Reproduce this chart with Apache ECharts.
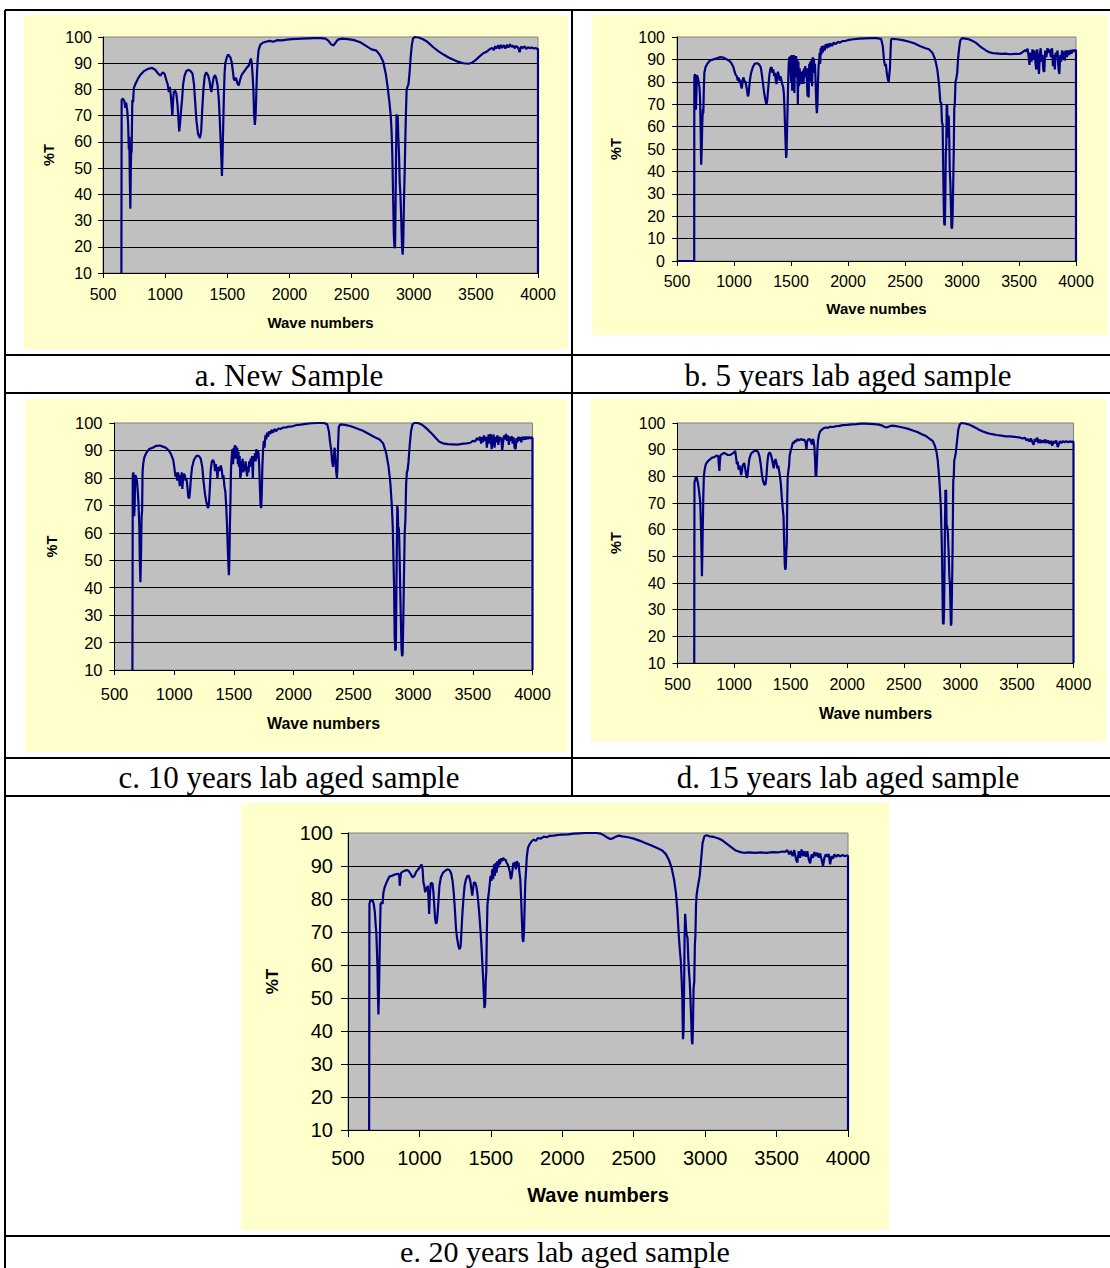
<!DOCTYPE html>
<html>
<head>
<meta charset="utf-8">
<script src="https://cdn.jsdelivr.net/npm/echarts@6/dist/echarts.min.js"></script>
<style>
html,body{margin:0;padding:0;background:#fff;}
#chart{width:1110px;height:1268px;}
</style>
</head>
<body>
<div id="chart"></div>
<script>
// ---- Data (wave number, %T) ----
var xTicks = [500, 1000, 1500, 2000, 2500, 3000, 3500, 4000];
var captions = ['a. New Sample', 'b. 5 years lab aged sample', 'c. 10 years lab aged sample', 'd. 15 years lab aged sample', 'e. 20 years lab aged sample'];
var xTitles = ['Wave numbers', 'Wave numbes', 'Wave numbers', 'Wave numbers', 'Wave numbers'];
var yTitle = '%T';
var yMins = [10, 0, 10, 10, 10];

var specA = [[648,10],[650,76],[660,76.5],[672,75.5],[680,73],[686,75],[695,72],[702,67],[708,57],[712,62],[716,45],[720,34.5],[724,50],[727,57],[730,56],[733,66],[736,76],[742,75],[748,80.5],[760,82],[780,84],[800,85.5],[830,87],[860,87.8],[895,88.2],[920,87.5],[945,86],[962,85.3],[980,86.5],[995,86],[1010,83.5],[1020,82],[1030,79],[1038,81],[1045,78],[1052,74],[1058,70],[1064,76],[1070,79],[1080,79.5],[1090,78.5],[1100,74],[1108,68],[1113,64],[1120,67],[1128,72],[1136,76],[1145,82],[1155,85],[1170,87],[1190,87.5],[1205,87],[1220,86],[1232,82],[1242,75],[1252,68],[1265,63],[1280,61.5],[1290,64],[1298,72],[1308,80],[1318,85],[1330,86.5],[1345,85.5],[1358,83],[1365,80.5],[1372,79],[1378,81],[1390,84.5],[1402,85.5],[1412,84],[1422,81.5],[1432,76],[1440,68],[1447,60],[1452,54],[1457,47],[1462,55],[1468,68],[1473,78],[1478,86],[1484,90],[1495,92],[1505,93.3],[1515,92.8],[1525,92.2],[1535,90.5],[1545,87],[1552,84],[1560,83.5],[1570,84.5],[1580,82.5],[1592,81.5],[1602,83.5],[1615,85.5],[1630,86.5],[1645,87.5],[1660,88.5],[1672,89],[1682,90.5],[1690,91.8],[1697,90],[1703,86],[1710,80],[1716,70],[1722,66.5],[1728,70],[1733,78],[1738,85],[1744,91],[1752,95],[1765,97],[1785,97.8],[1810,98.2],[1840,98.5],[1870,98.2],[1900,98.8],[1940,98.7],[1980,99],[2020,99.2],[2060,99.3],[2100,99.4],[2150,99.5],[2200,99.6],[2250,99.6],[2290,99.4],[2315,98.5],[2335,97.2],[2355,96.8],[2370,97.8],[2390,99],[2420,99.4],[2470,99.2],[2520,98.8],[2570,98],[2620,96.5],[2660,95.3],[2700,94.8],[2730,93],[2755,90.5],[2775,86],[2790,81],[2805,75],[2815,70],[2822,64],[2828,55],[2834,40],[2840,25],[2845,19.5],[2850,20],[2854,36],[2858,55],[2862,70.5],[2866,67],[2871,70],[2876,62],[2882,55],[2887,45],[2893,40],[2900,30],[2906,20],[2911,17],[2916,22],[2922,38],[2928,50],[2933,62],[2938,72],[2943,80],[2950,81],[2958,82],[2966,86],[2975,92],[2985,97],[2995,99.5],[3010,100],[3040,99.8],[3070,99.2],[3100,98.5],[3130,97.3],[3160,96],[3200,94.5],[3240,93.3],[3280,92.2],[3320,91.3],[3360,90.5],[3400,90],[3440,89.8],[3470,90.2],[3500,91.3],[3530,92.6],[3560,93.8],[3590,94.5],[3610,95.3],[3630,95.8],[3645,95],[3655,96.5],[3665,95.6],[3680,96.8],[3690,95.5],[3700,97],[3712,95.8],[3725,96.9],[3738,95.6],[3750,97],[3762,96],[3775,97.2],[3788,96.2],[3800,96.8],[3812,95.7],[3825,96.6],[3840,95.9],[3852,94.2],[3862,96.3],[3878,95.8],[3892,96.4],[3905,95.5],[3920,96.1],[3935,95.7],[3950,96],[3965,95.6],[3980,95.8],[3992,95.5],[4000,95.5],[4000,10]];

var specB = [[500,0],[651,0],[652,82],[658,83.5],[663,76],[666,67.5],[670,74],[675,83],[682,82],[690,80],[697,77.5],[702,73],[707,60],[712,43],[717,50],[722,62],[727,68],[731,66],[735,76],[740,84],[750,86.5],[765,88],[790,89.5],[820,90],[850,90.5],[880,91],[905,90.8],[930,90.2],[955,89.5],[975,88.5],[995,86.5],[1005,84.5],[1015,83],[1025,82.5],[1032,80.5],[1040,82],[1048,79.5],[1055,81],[1062,78],[1068,77],[1075,80],[1082,82],[1090,80.5],[1100,80],[1108,78],[1115,76],[1122,73.5],[1128,74.5],[1134,78],[1140,81],[1150,84],[1165,86.5],[1180,88],[1200,88.3],[1220,87.8],[1235,86.5],[1245,83],[1255,79],[1265,75],[1275,72],[1285,69.8],[1292,72],[1300,77],[1310,83],[1320,86],[1330,86.5],[1338,84],[1345,85.5],[1352,82.5],[1360,84],[1368,80],[1373,79],[1378,82],[1385,84.5],[1393,83],[1400,80.5],[1408,82.5],[1415,81],[1422,79],[1430,78],[1437,75],[1443,68],[1448,60],[1453,52],[1457,46],[1461,48],[1466,60],[1471,70],[1476,82],[1480,88],[1485,91],[1490,84],[1495,91.5],[1500,80],[1505,92],[1510,76],[1515,91],[1520,85],[1525,92],[1530,75],[1535,90.5],[1540,86],[1545,91.5],[1550,82],[1555,90],[1560,70],[1565,89],[1570,78],[1575,86],[1580,84],[1585,82],[1590,79],[1595,84.5],[1600,80],[1605,85],[1610,79],[1615,86],[1620,82],[1625,87],[1630,83],[1635,86],[1640,80],[1645,73.5],[1650,86],[1655,73],[1660,88],[1665,82],[1670,89],[1675,80],[1680,90],[1685,78],[1690,91],[1695,84],[1700,90.5],[1705,86],[1710,88],[1716,80],[1722,70],[1727,66],[1732,70],[1737,80],[1742,87],[1748,90],[1752,93],[1756,88],[1760,95],[1765,92],[1770,96],[1778,93],[1785,96.2],[1795,94],[1805,96.8],[1815,95],[1825,97],[1835,95.5],[1845,97.2],[1860,96],[1875,97.5],[1890,96.8],[1910,97.8],[1930,97.5],[1950,98.2],[1980,98.3],[2010,98.7],[2050,99],[2100,99.3],[2150,99.4],[2200,99.5],[2250,99.5],[2290,99.2],[2305,96],[2315,90],[2325,87],[2332,88],[2340,84],[2350,81],[2357,80],[2362,83],[2368,86],[2373,93],[2378,99],[2390,99.2],[2430,99],[2480,98.6],[2530,98],[2580,97.2],[2630,96],[2680,95],[2710,94.5],[2740,93],[2765,90],[2785,85],[2800,78],[2810,71],[2818,70.5],[2824,62],[2830,61],[2835,42],[2840,25],[2844,16.5],[2850,16],[2854,30],[2858,48],[2862,52],[2866,70],[2870,69],[2875,55],[2879,65],[2884,64],[2888,55],[2893,40],[2898,35],[2903,25],[2908,15],[2913,14.5],[2918,21],[2923,35],[2928,50],[2932,68],[2937,70],[2943,80],[2950,81.5],[2958,84],[2965,90],[2975,95],[2985,98.5],[3000,99.5],[3030,99.3],[3060,99],[3090,98.3],[3120,97.5],[3150,96.2],[3180,95],[3210,94],[3240,93.2],[3270,92.8],[3300,92.7],[3340,92.5],[3380,92.6],[3420,92.3],[3460,92.5],[3500,92.4],[3520,92.8],[3540,93.6],[3555,94.2],[3565,93.5],[3575,94.8],[3585,91],[3592,87.5],[3600,93],[3610,89],[3618,94.5],[3628,90],[3637,94],[3645,88],[3652,85.5],[3660,94.5],[3668,89],[3675,83.5],[3683,92],[3690,95],[3698,89],[3706,92],[3714,85],[3722,84.5],[3730,94],[3740,91],[3750,95],[3760,93],[3770,94.5],[3780,91],[3790,95],[3798,87],[3806,92],[3814,85.5],[3822,93],[3830,91],[3838,94],[3846,86],[3854,83.5],[3862,92],[3870,89],[3878,94],[3886,90],[3894,93.5],[3902,89.5],[3910,94],[3920,91],[3930,94],[3940,92],[3950,94.2],[3960,92.5],[3970,94.3],[3980,93.5],[3990,94.2],[4000,94],[4000,0]];

var specC = [[650,10],[653,81],[658,82],[662,78],[665,66],[669,70],[673,81],[680,80.5],[688,79],[695,75],[702,70],[708,62],[712,50],[717,42],[722,52],[727,66],[731,68],[735,82],[740,85],[750,87.5],[765,89],[790,90.5],[820,91],[850,91.7],[880,91.8],[905,91.4],[930,91],[955,90],[975,88.5],[992,86.5],[1002,83.5],[1010,80.5],[1018,82],[1025,79],[1032,82],[1040,80],[1046,77],[1052,81],[1058,78],[1063,82],[1068,76],[1074,80],[1080,81.5],[1088,81],[1095,79],[1102,80],[1110,77],[1118,73],[1126,72.5],[1132,75],[1140,80],[1150,84],[1165,86.5],[1185,88],[1205,88],[1222,87],[1235,84],[1245,79],[1258,74],[1270,71],[1282,69],[1290,70],[1298,76],[1306,83],[1315,86],[1325,86.5],[1335,85.5],[1342,82.5],[1348,85],[1356,83],[1362,80],[1368,83],[1375,84],[1383,82.5],[1390,84.5],[1398,83],[1405,80],[1412,81],[1420,77],[1428,75],[1435,70],[1442,63],[1448,55],[1454,48],[1458,44.5],[1462,50],[1466,62],[1471,72],[1476,84],[1482,88],[1487,90.5],[1493,85],[1498,91],[1503,89],[1508,92],[1513,87],[1518,91.5],[1523,88],[1528,91],[1533,85],[1538,89.5],[1543,84],[1548,88],[1553,80],[1558,81],[1563,86],[1568,84.5],[1573,87],[1578,82],[1583,85],[1590,82.5],[1597,86],[1604,84],[1610,80.5],[1616,84],[1622,82],[1628,86],[1634,84],[1640,87],[1646,85],[1652,88],[1658,80],[1664,88],[1670,86],[1676,89],[1682,86],[1688,90.5],[1694,87],[1700,90],[1706,89],[1712,84],[1718,76],[1723,70],[1728,69],[1733,74],[1738,84],[1744,90],[1750,93.5],[1757,91],[1763,95.5],[1770,94],[1778,96.5],[1786,95],[1795,97],[1805,96],[1815,97.5],[1828,96.5],[1840,97.8],[1855,97],[1870,98],[1890,97.8],[1910,98.3],[1935,98.4],[1960,98.7],[1990,98.8],[2020,99.2],[2060,99.4],[2100,99.7],[2150,99.9],[2200,100],[2250,100],[2280,99.6],[2295,97],[2305,93],[2315,90],[2322,86],[2330,84],[2337,88],[2343,91],[2350,86],[2357,82],[2362,80],[2367,84],[2372,92],[2378,98.5],[2390,99.5],[2430,99.3],[2480,98.8],[2530,98],[2580,97.2],[2630,96],[2680,94.8],[2720,94],[2750,92.5],[2775,89],[2795,84],[2810,78],[2822,70],[2830,62],[2836,50],[2841,40],[2846,22],[2851,17],[2856,18],[2860,38],[2864,55],[2868,70],[2872,68],[2876,60],[2880,62],[2884,58],[2888,50],[2893,38],[2898,28],[2903,18],[2908,15],[2913,16],[2918,28],[2924,45],[2930,60],[2936,65],[2942,78],[2948,82],[2955,83],[2962,86],[2972,92],[2983,97],[2995,99.5],[3010,100],[3040,100],[3070,99.5],[3100,98.5],[3130,97.3],[3160,96],[3190,94.5],[3220,93.2],[3250,92.6],[3290,92.3],[3330,92.2],[3370,92.1],[3410,92.4],[3450,92.6],[3480,92.8],[3500,93.5],[3520,93.3],[3535,94.5],[3548,93.8],[3560,95],[3570,92.5],[3578,94.8],[3586,93],[3594,95.5],[3602,93.5],[3610,95],[3618,91],[3626,94.5],[3634,95.8],[3642,92.5],[3650,96],[3658,90.5],[3666,94],[3674,95.8],[3682,91],[3690,95],[3698,93],[3706,95.5],[3714,92],[3722,95],[3730,93.5],[3738,94.8],[3746,89.8],[3754,93],[3762,95.5],[3770,94],[3778,96],[3786,93.5],[3794,95.5],[3802,92],[3810,95],[3818,93.5],[3826,95.2],[3834,92.5],[3842,94.8],[3850,91],[3858,90.5],[3866,94.5],[3874,93],[3882,95],[3890,93.5],[3898,94.8],[3906,93],[3914,95],[3922,93.8],[3930,95],[3940,94],[3950,95],[3960,94.2],[3970,95],[3980,94.3],[3990,94.8],[4000,94.5],[4000,10]];

var specD = [[648,10],[650,78],[656,78.5],[662,80],[670,79.5],[678,78],[686,76],[694,73],[700,71],[705,65],[709,58],[713,50],[716,42.5],[720,52],[724,62],[728,72],[733,80],[740,82.5],[750,84.5],[765,85.5],[785,86.3],[805,87],[825,87.2],[845,87.8],[860,87.5],[866,84],[870,82],[874,85],[880,88],[895,88.3],[910,88.8],[925,88.5],[945,88],[965,88],[985,88.5],[1000,89],[1010,89.5],[1018,87],[1025,84.5],[1032,85.5],[1040,82.5],[1047,84],[1054,83],[1062,80.5],[1068,81.5],[1075,84],[1082,84.5],[1090,85],[1098,83],[1105,81],[1112,79.5],[1118,80],[1125,83],[1135,86.5],[1150,88.5],[1170,89.3],[1195,89.6],[1212,89.2],[1225,87.5],[1237,84],[1248,80],[1258,78],[1268,76.8],[1278,77],[1286,80],[1294,85],[1302,88],[1312,89],[1322,88.5],[1332,87],[1342,85],[1350,83],[1358,85.5],[1366,86.5],[1375,85],[1382,83],[1390,84],[1398,82],[1406,80],[1414,77],[1422,72],[1430,68],[1437,65],[1443,55],[1448,47],[1452,45],[1457,45.5],[1462,52],[1466,55],[1470,72],[1474,80],[1480,82],[1486,84],[1492,88],[1500,89.5],[1510,91],[1520,92.8],[1530,92.5],[1540,93.5],[1550,93],[1560,94],[1575,93.5],[1590,94],[1605,93.6],[1620,93.8],[1632,92.8],[1640,90],[1645,93],[1655,93.8],[1668,94],[1680,93],[1688,92],[1694,94],[1702,93.5],[1710,91],[1716,86],[1720,80.5],[1726,80],[1731,84],[1736,90],[1742,93.5],[1750,95.5],[1760,96.8],[1775,97.5],[1790,98],[1810,98.3],[1830,98.2],[1850,98.6],[1875,98.5],[1900,98.8],[1930,98.9],[1960,99.2],[2000,99.3],[2040,99.5],[2080,99.6],[2120,99.8],[2160,99.8],[2200,99.7],[2240,99.6],[2280,99.4],[2310,99],[2330,98.5],[2350,98.3],[2370,98.7],[2390,99],[2420,98.9],[2460,98.6],[2500,98.2],[2540,97.8],[2580,97.2],[2620,96.6],[2660,95.8],[2700,95],[2730,94],[2755,93.3],[2775,91.5],[2790,89],[2800,86],[2808,82],[2815,78],[2822,73],[2828,68],[2834,58],[2838,50],[2842,38],[2846,25],[2852,24.5],[2856,30],[2860,45],[2864,62],[2868,75],[2871,60],[2874,75],[2878,62],[2883,61],[2888,60],[2893,55],[2898,50],[2903,42],[2908,40],[2913,30],[2917,24],[2921,25],[2925,35],[2929,45],[2933,60],[2937,78],[2942,80],[2946,86],[2952,87],[2960,89],[2970,93],[2982,97.5],[2995,99.5],[3010,100],[3040,99.8],[3070,99.5],[3100,99],[3130,98.3],[3160,97.6],[3200,96.8],[3240,96.2],[3280,95.8],[3320,95.5],[3360,95.3],[3400,95],[3440,95],[3480,94.8],[3520,94.6],[3550,94.2],[3570,94.5],[3585,93.5],[3600,94],[3612,93],[3624,94.2],[3636,92.8],[3648,91.8],[3658,94],[3668,93],[3680,94.5],[3690,92.5],[3702,93.8],[3712,92.5],[3725,93.5],[3738,92.6],[3750,93.8],[3762,92.5],[3775,93.5],[3788,92.2],[3800,93.3],[3812,91.5],[3824,93.2],[3836,92.5],[3848,93.4],[3860,91],[3870,92],[3880,93.2],[3892,92.5],[3905,93.2],[3920,92.8],[3935,93.2],[3950,92.8],[3965,93.1],[3980,92.9],[3992,93],[4000,93],[4000,10]];

var specE = [[648,10],[650,78.5],[656,79.5],[664,79.5],[672,79.6],[680,78.5],[688,76],[694,72],[698,70],[702,65],[706,60],[710,50],[713,45],[717,52],[720,60],[724,70],[728,78.5],[735,79],[742,78.5],[748,82],[756,83.5],[765,84.5],[775,85.5],[790,86.8],[805,87],[820,87.3],[835,87.5],[850,87.6],[858,87.5],[862,84],[866,86],[872,88],[885,88.3],[900,88.6],[915,88.8],[928,88.3],[940,87.5],[952,86.5],[965,87],[978,88.3],[992,89],[1005,89.8],[1015,90.5],[1022,89],[1028,85],[1034,84],[1040,82],[1046,83.5],[1052,82.5],[1058,84],[1064,80],[1068,75.5],[1072,80],[1078,84.5],[1085,85],[1092,84.5],[1098,82],[1104,78],[1110,74],[1116,72.5],[1122,73],[1128,76],[1134,80],[1140,84],[1150,86.5],[1165,88],[1180,88.5],[1195,89],[1210,88.8],[1222,87.8],[1232,85.5],[1240,82],[1248,77],[1256,71],[1264,68],[1272,66],[1280,64.8],[1288,65.5],[1294,70],[1300,75],[1308,80],[1316,84],[1326,86],[1336,87],[1346,87],[1356,85.5],[1364,83],[1370,81],[1375,83],[1382,85],[1390,85],[1398,84],[1405,82],[1412,79],[1420,75],[1428,70],[1434,66],[1440,61],[1446,56],[1450,52],[1455,47],[1460,48],[1464,55],[1468,58],[1472,70],[1476,78],[1480,80],[1486,82],[1492,84.5],[1498,87],[1504,85.5],[1510,89],[1516,86],[1522,90.5],[1528,87],[1534,91],[1540,88],[1546,91.5],[1552,89.5],[1558,92],[1564,90.5],[1570,92.3],[1578,91.5],[1586,92.5],[1594,91.8],[1602,92],[1610,91],[1618,90.5],[1626,89.5],[1634,88],[1640,86],[1646,87],[1652,89],[1658,91],[1664,89.5],[1670,91.2],[1676,89],[1682,91.5],[1688,90],[1694,91],[1700,88],[1706,86],[1712,80],[1717,74],[1722,68],[1727,67],[1732,70],[1736,77],[1741,85],[1746,88.5],[1752,93],[1760,95.5],[1770,96.5],[1785,97.5],[1800,98],[1815,97.6],[1830,98.5],[1850,98.3],[1870,98.9],[1890,98.7],[1910,99.1],[1940,99.2],[1970,99.4],[2000,99.5],[2040,99.6],[2080,99.8],[2120,99.9],[2160,100],[2200,100],[2240,100],[2270,99.8],[2295,99.2],[2315,98.6],[2335,98.2],[2350,98.3],[2370,98.8],[2395,99.2],[2420,99],[2460,98.7],[2500,98.3],[2540,97.7],[2580,97],[2620,96.3],[2660,95.5],[2700,94.7],[2725,93.6],[2745,92],[2765,89.5],[2782,86],[2795,82],[2805,77],[2814,70],[2822,65],[2830,61],[2836,55],[2840,50],[2845,37.5],[2849,40],[2852,50],[2856,68],[2860,75.5],[2864,73],[2868,70],[2872,69],[2877,68],[2882,62],[2887,58],[2892,55],[2897,50],[2902,44],[2907,37],[2911,36],[2915,42],[2919,53],[2924,55],[2928,66],[2932,69],[2936,78],[2940,81],[2946,83],[2954,85],[2962,87],[2972,92],[2982,97],[2995,99],[3010,99.3],[3030,99],[3060,98.8],[3090,98.4],[3120,97.8],[3150,96.8],[3180,95.8],[3210,94.8],[3240,94.3],[3270,94],[3310,94.1],[3350,94],[3390,94.1],[3430,94],[3470,94.2],[3510,94.1],[3540,94.4],[3560,94.3],[3575,94.8],[3590,93.5],[3600,94.6],[3612,93],[3624,94.8],[3636,92],[3645,91],[3655,94.5],[3665,92.5],[3675,95],[3685,93],[3695,94.5],[3705,92.8],[3715,94.5],[3725,92],[3735,90.8],[3745,93.5],[3755,92.5],[3765,94.2],[3775,93],[3785,94],[3795,92.5],[3805,93.8],[3815,92],[3825,90],[3835,92.5],[3845,93.5],[3855,92.8],[3865,93.6],[3875,90.5],[3885,93],[3895,92.2],[3905,93.5],[3918,92.8],[3930,93.4],[3945,92.9],[3960,93.3],[3975,93],[3990,93.2],[4000,93],[4000,10]];

var spectra = [specA, specB, specC, specD, specE];

// ---- Layout (pixels) ----
var layout = [
  {grid:{left:103,top:37,width:435,height:236}, tickFs:16, titleFs:15, yNameFs:14.5, xGap:42, yGap:47, yMargin:11, xMargin:13, tick:5},
  {grid:{left:677,top:37,width:399,height:224}, tickFs:16, titleFs:15, yNameFs:14.5, xGap:40, yGap:54, yMargin:12, xMargin:12, tick:5},
  {grid:{left:114.5,top:423,width:418,height:247}, tickFs:16.5, titleFs:16, yNameFs:14.5, xGap:45, yGap:55, yMargin:12, xMargin:15, tick:5},
  {grid:{left:677.5,top:423,width:396,height:240}, tickFs:16, titleFs:16, yNameFs:14.5, xGap:42, yGap:54, yMargin:12, xMargin:13, tick:5},
  {grid:{left:348,top:833,width:500,height:297}, tickFs:20, titleFs:20, yNameFs:17, xGap:55, yGap:67, yMargin:15, xMargin:18, tick:7}
];
var yellowBoxes = [[24,15,544,334],[592,15,516,320],[25,399,542,353],[591,399,515,342],[241,803,648,427]];
var captionPos = [[289,375],[848,375],[289,777],[848,777],[565,1251]];
var captionFs = [31, 31, 31, 31, 30];

var FONT = '"Liberation Sans", Arial, sans-serif';
var grids = [], xAxes = [], yAxes = [], series = [], graphics = [];

yellowBoxes.forEach(function (b) {
  graphics.push({type:'rect', z:-10, silent:true, shape:{x:b[0],y:b[1],width:b[2],height:b[3]}, style:{fill:'#FFFFCC'}});
});

// table lines
var hLines = [[5,10,1110,10],[5,355,1110,355],[5,393,1110,393],[5,758,1110,758],[5,796,1110,796],[5,1236,1110,1236]];
var vLines = [[5,10,5,1268],[572,10,572,796]];
hLines.concat(vLines).forEach(function (l) {
  graphics.push({type:'line', z:50, silent:true, shape:{x1:l[0],y1:l[1],x2:l[2],y2:l[3]}, style:{stroke:'#000',lineWidth:2}});
});

captions.forEach(function (c, i) {
  graphics.push({type:'text', z:50, x:captionPos[i][0], y:captionPos[i][1],
    style:{text:c, fontFamily:'"Liberation Serif","Times New Roman",serif', fontSize:captionFs[i], fill:'#000', align:'center', verticalAlign:'middle'}});
});

function plainNum(v) { return String(v); }

layout.forEach(function (L, i) {
  grids.push(Object.assign({show:true, backgroundColor:'#C0C0C0', borderColor:'#808080', borderWidth:1, containLabel:false}, L.grid));
  xAxes.push({
    type:'value', gridIndex:i, min:xTicks[0], max:xTicks[xTicks.length-1], interval:xTicks[1]-xTicks[0],
    name:xTitles[i], nameLocation:'middle', nameGap:L.xGap,
    nameTextStyle:{fontFamily:FONT, fontWeight:'bold', fontSize:L.titleFs, color:'#000'},
    axisLine:{show:true, lineStyle:{color:'#000', width:1}},
    axisTick:{show:true, inside:false, length:L.tick, lineStyle:{color:'#000'}},
    axisLabel:{fontFamily:FONT, fontSize:L.tickFs, color:'#000', margin:L.xMargin, showMinLabel:true, showMaxLabel:true, formatter:plainNum},
    splitLine:{show:false}
  });
  yAxes.push({
    type:'value', gridIndex:i, min:yMins[i], max:100, interval:10,
    name:yTitle, nameLocation:'middle', nameGap:L.yGap, nameRotate:90,
    nameTextStyle:{fontFamily:FONT, fontWeight:'bold', fontSize:L.yNameFs, color:'#000'},
    axisLine:{show:true, lineStyle:{color:'#000', width:1}},
    axisTick:{show:true, inside:false, length:L.tick, lineStyle:{color:'#000'}},
    axisLabel:{fontFamily:FONT, fontSize:L.tickFs, color:'#000', margin:L.yMargin, formatter:plainNum},
    splitLine:{show:true, showMinLine:false, showMaxLine:false, lineStyle:{color:'#000', width:1}}
  });
  series.push({
    type:'line', xAxisIndex:i, yAxisIndex:i, data:spectra[i],
    showSymbol:false, symbol:'none', smooth:false, clip:false,
    lineStyle:{color:'#000080', width:2.2}, z:5, animation:false
  });
});

var chart = echarts.init(document.getElementById('chart'), null, {renderer:'svg', width:1110, height:1268});
chart.setOption({
  backgroundColor:'#FFFFFF',
  animation:false,
  grid:grids, xAxis:xAxes, yAxis:yAxes, series:series,
  graphic:{elements:graphics}
});
</script>
</body>
</html>
